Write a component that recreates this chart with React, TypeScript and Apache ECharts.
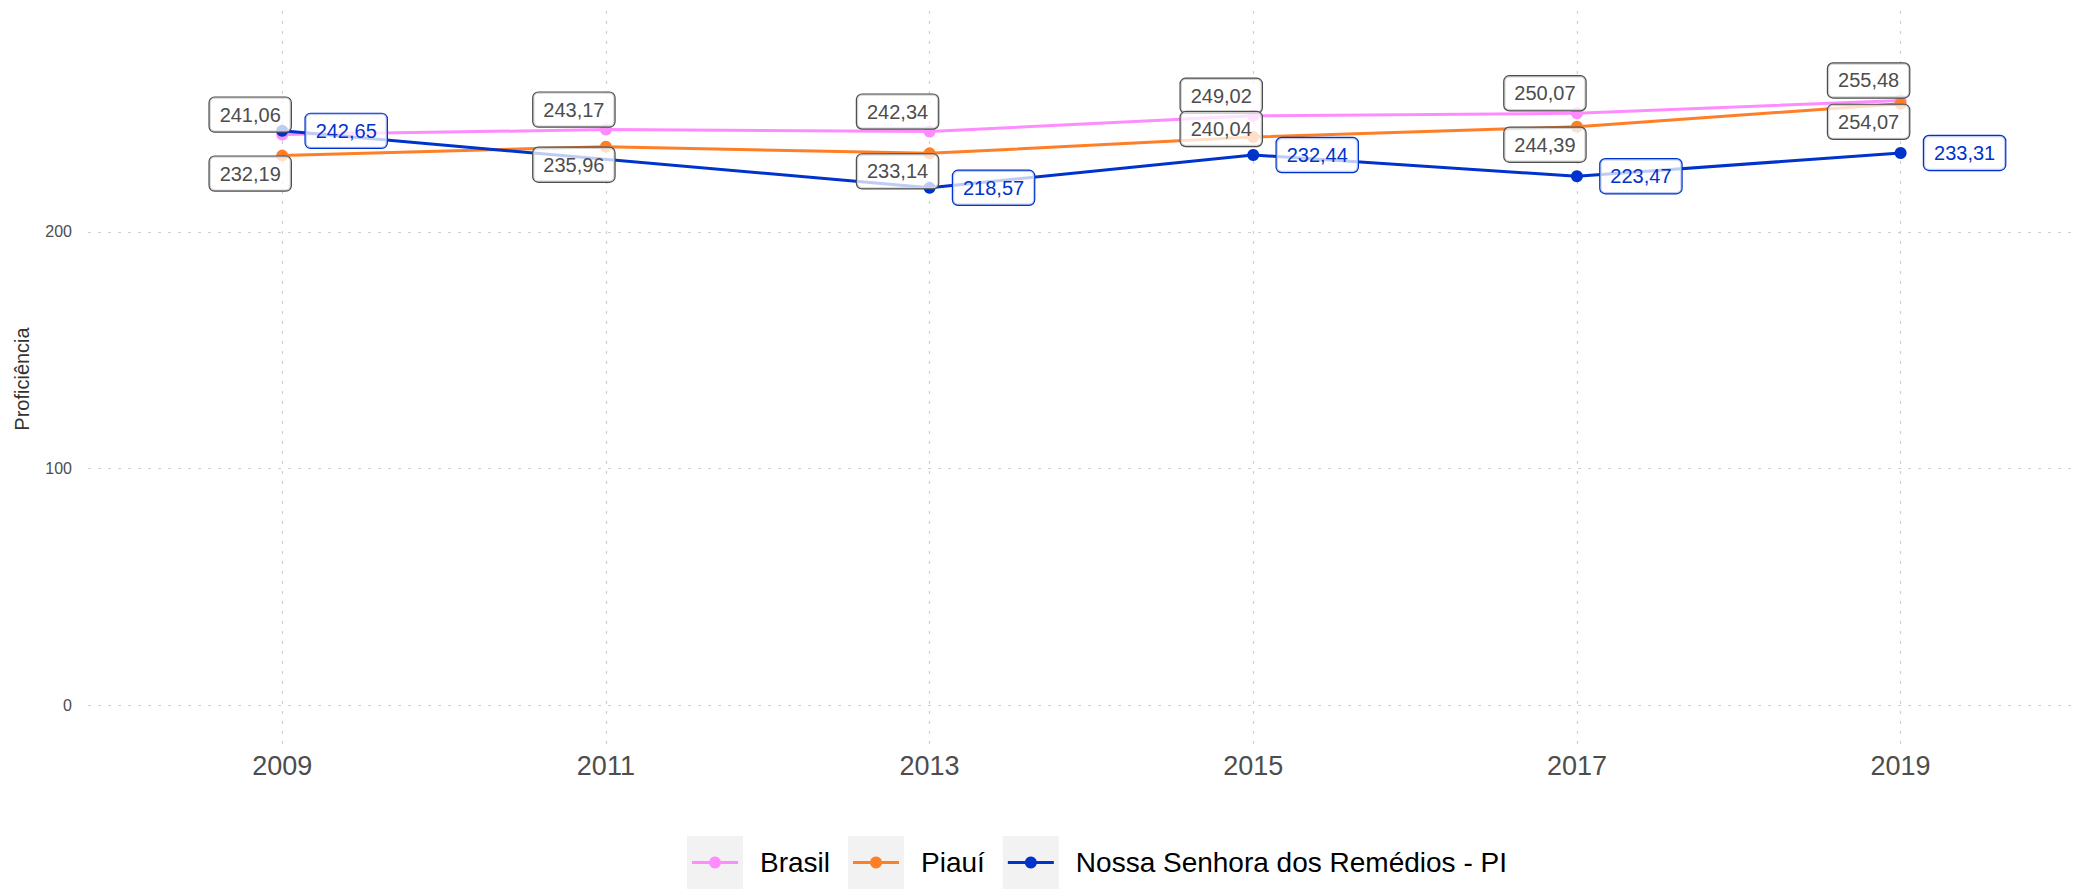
import React, { useEffect, useRef } from 'react';
import * as echarts from 'echarts';

const years = [2009, 2011, 2013, 2015, 2017, 2019];
const brasil = [241.06, 243.17, 242.34, 249.02, 250.07, 255.48];
const piaui = [232.19, 235.96, 233.14, 240.04, 244.39, 254.07];
const nossaSenhora: (number | null)[] = [242.65, null, 218.57, 232.44, 223.47, 233.31];
const yTicks = [0, 100, 200];
const seriesNames = ['Brasil', 'Piauí', 'Nossa Senhora dos Remédios - PI'];
const yTitle = 'Proficiência';

const FONT = '"Liberation Sans", Arial, Helvetica, sans-serif';
const COLORS = ['#ff8cff', '#ff7f27', '#0033cc'];
const GRAY_TEXT = '#4d4d4d';

const fmt = (v: number) => v.toFixed(2).replace('.', ',');

function toData(vals: (number | null)[]) {
  return years
    .map((y, i) => ({ y, v: vals[i] }))
    .filter((d) => d.v !== null)
    .map((d) => [d.y, d.v as number]);
}

function labelStyle(textColor: string, offset: number[]) {
  return {
    show: true,
    position: 'inside',
    offset,
    formatter: (p: any) => fmt(p.value[1]),
    color: textColor,
    fontSize: 20,
    fontFamily: FONT,
    lineHeight: 22,
    backgroundColor: 'rgba(255,255,255,0.75)',
    borderColor: textColor,
    borderWidth: 1.2,
    borderRadius: 5,
    padding: [6, 10],
  };
}

export default function App() {
  const ref = useRef<HTMLDivElement>(null);

  useEffect(() => {
    if (!ref.current) return;
    const chart = echarts.init(ref.current, undefined, { renderer: 'svg' });

    // legend drawn as graphic (ggplot-style grey key boxes)
    const legendFontSize = 28;
    const canvas = document.createElement('canvas');
    const ctx = canvas.getContext('2d')!;
    ctx.font = `${legendFontSize}px ${FONT}`;
    const legendEls: any[] = [];
    let lx = 687;
    const boxTop = 836;
    const boxH = 53;
    const cy = boxTop + boxH / 2;
    seriesNames.forEach((name, i) => {
      legendEls.push({ type: 'rect', shape: { x: lx, y: boxTop, width: 56, height: boxH }, style: { fill: '#f2f2f2' }, silent: true });
      legendEls.push({ type: 'line', shape: { x1: lx + 5, y1: cy, x2: lx + 51, y2: cy }, style: { stroke: COLORS[i], lineWidth: 3 }, silent: true });
      legendEls.push({ type: 'circle', shape: { cx: lx + 28, cy, r: 6 }, style: { fill: COLORS[i] }, silent: true });
      legendEls.push({
        type: 'text', x: lx + 73, y: cy, silent: true,
        style: { text: name, fill: '#000', fontSize: legendFontSize, fontFamily: FONT, align: 'left', verticalAlign: 'middle' },
      });
      const w = ctx.measureText(name).width;
      lx = lx + 73 + w + 18;
    });

    const piauiData = toData(piaui).map((d) =>
      d[0] === 2015 ? { value: d, label: { offset: [-32, -8] } } : { value: d }
    );

    const option: any = {
      animation: false,
      textStyle: { fontFamily: FONT },
      grid: { left: 88, right: 0, top: 11, bottom: 142, containLabel: false },
      xAxis: {
        type: 'value',
        min: 2007.8,
        max: 2020.09,
        axisLine: { show: false },
        axisTick: { show: false, customValues: years },
        axisLabel: {
          customValues: years,
          formatter: (v: number) => String(v),
          color: GRAY_TEXT,
          fontSize: 27,
          lineHeight: 28,
          margin: 5,
          fontFamily: FONT,
        },
        splitLine: { show: true, lineStyle: { color: '#cfcfcf', width: 1.2, type: [3, 7] } },
      },
      yAxis: {
        type: 'value',
        min: -17.75,
        max: 293.3,
        name: yTitle,
        nameLocation: 'middle',
        nameGap: 56,
        nameTextStyle: { color: '#333', fontSize: 20, fontFamily: FONT },
        axisLine: { show: false },
        axisTick: { show: false, customValues: yTicks },
        axisLabel: { customValues: yTicks, color: GRAY_TEXT, fontSize: 16, margin: 16, fontFamily: FONT },
        splitLine: { show: true, lineStyle: { color: '#cfcfcf', width: 1.2, type: [3, 7] } },
      },
      graphic: legendEls,
      series: [
        {
          name: seriesNames[0], type: 'line', data: toData(brasil),
          symbol: 'circle', symbolSize: 12, showSymbol: true,
          lineStyle: { color: COLORS[0], width: 3 }, itemStyle: { color: COLORS[0] },
          label: labelStyle(GRAY_TEXT, [-32, -20]),
          emphasis: { disabled: true }, silent: true,
        },
        {
          name: seriesNames[1], type: 'line', data: piauiData,
          symbol: 'circle', symbolSize: 12, showSymbol: true,
          lineStyle: { color: COLORS[1], width: 3 }, itemStyle: { color: COLORS[1] },
          label: labelStyle(GRAY_TEXT, [-32, 18]),
          emphasis: { disabled: true }, silent: true,
        },
        {
          name: seriesNames[2], type: 'line', data: toData(nossaSenhora), connectNulls: true,
          symbol: 'circle', symbolSize: 12, showSymbol: true,
          lineStyle: { color: COLORS[2], width: 3 }, itemStyle: { color: COLORS[2] },
          label: labelStyle(COLORS[2], [64, 0]),
          emphasis: { disabled: true }, silent: true,
        },
      ],
    };
    chart.setOption(option);
    return () => chart.dispose();
  }, []);

  return (
    <div
      ref={ref}
      style={{ position: 'fixed', left: 0, top: 0, width: 2077, height: 889, background: '#fff' }}
    />
  );
}
